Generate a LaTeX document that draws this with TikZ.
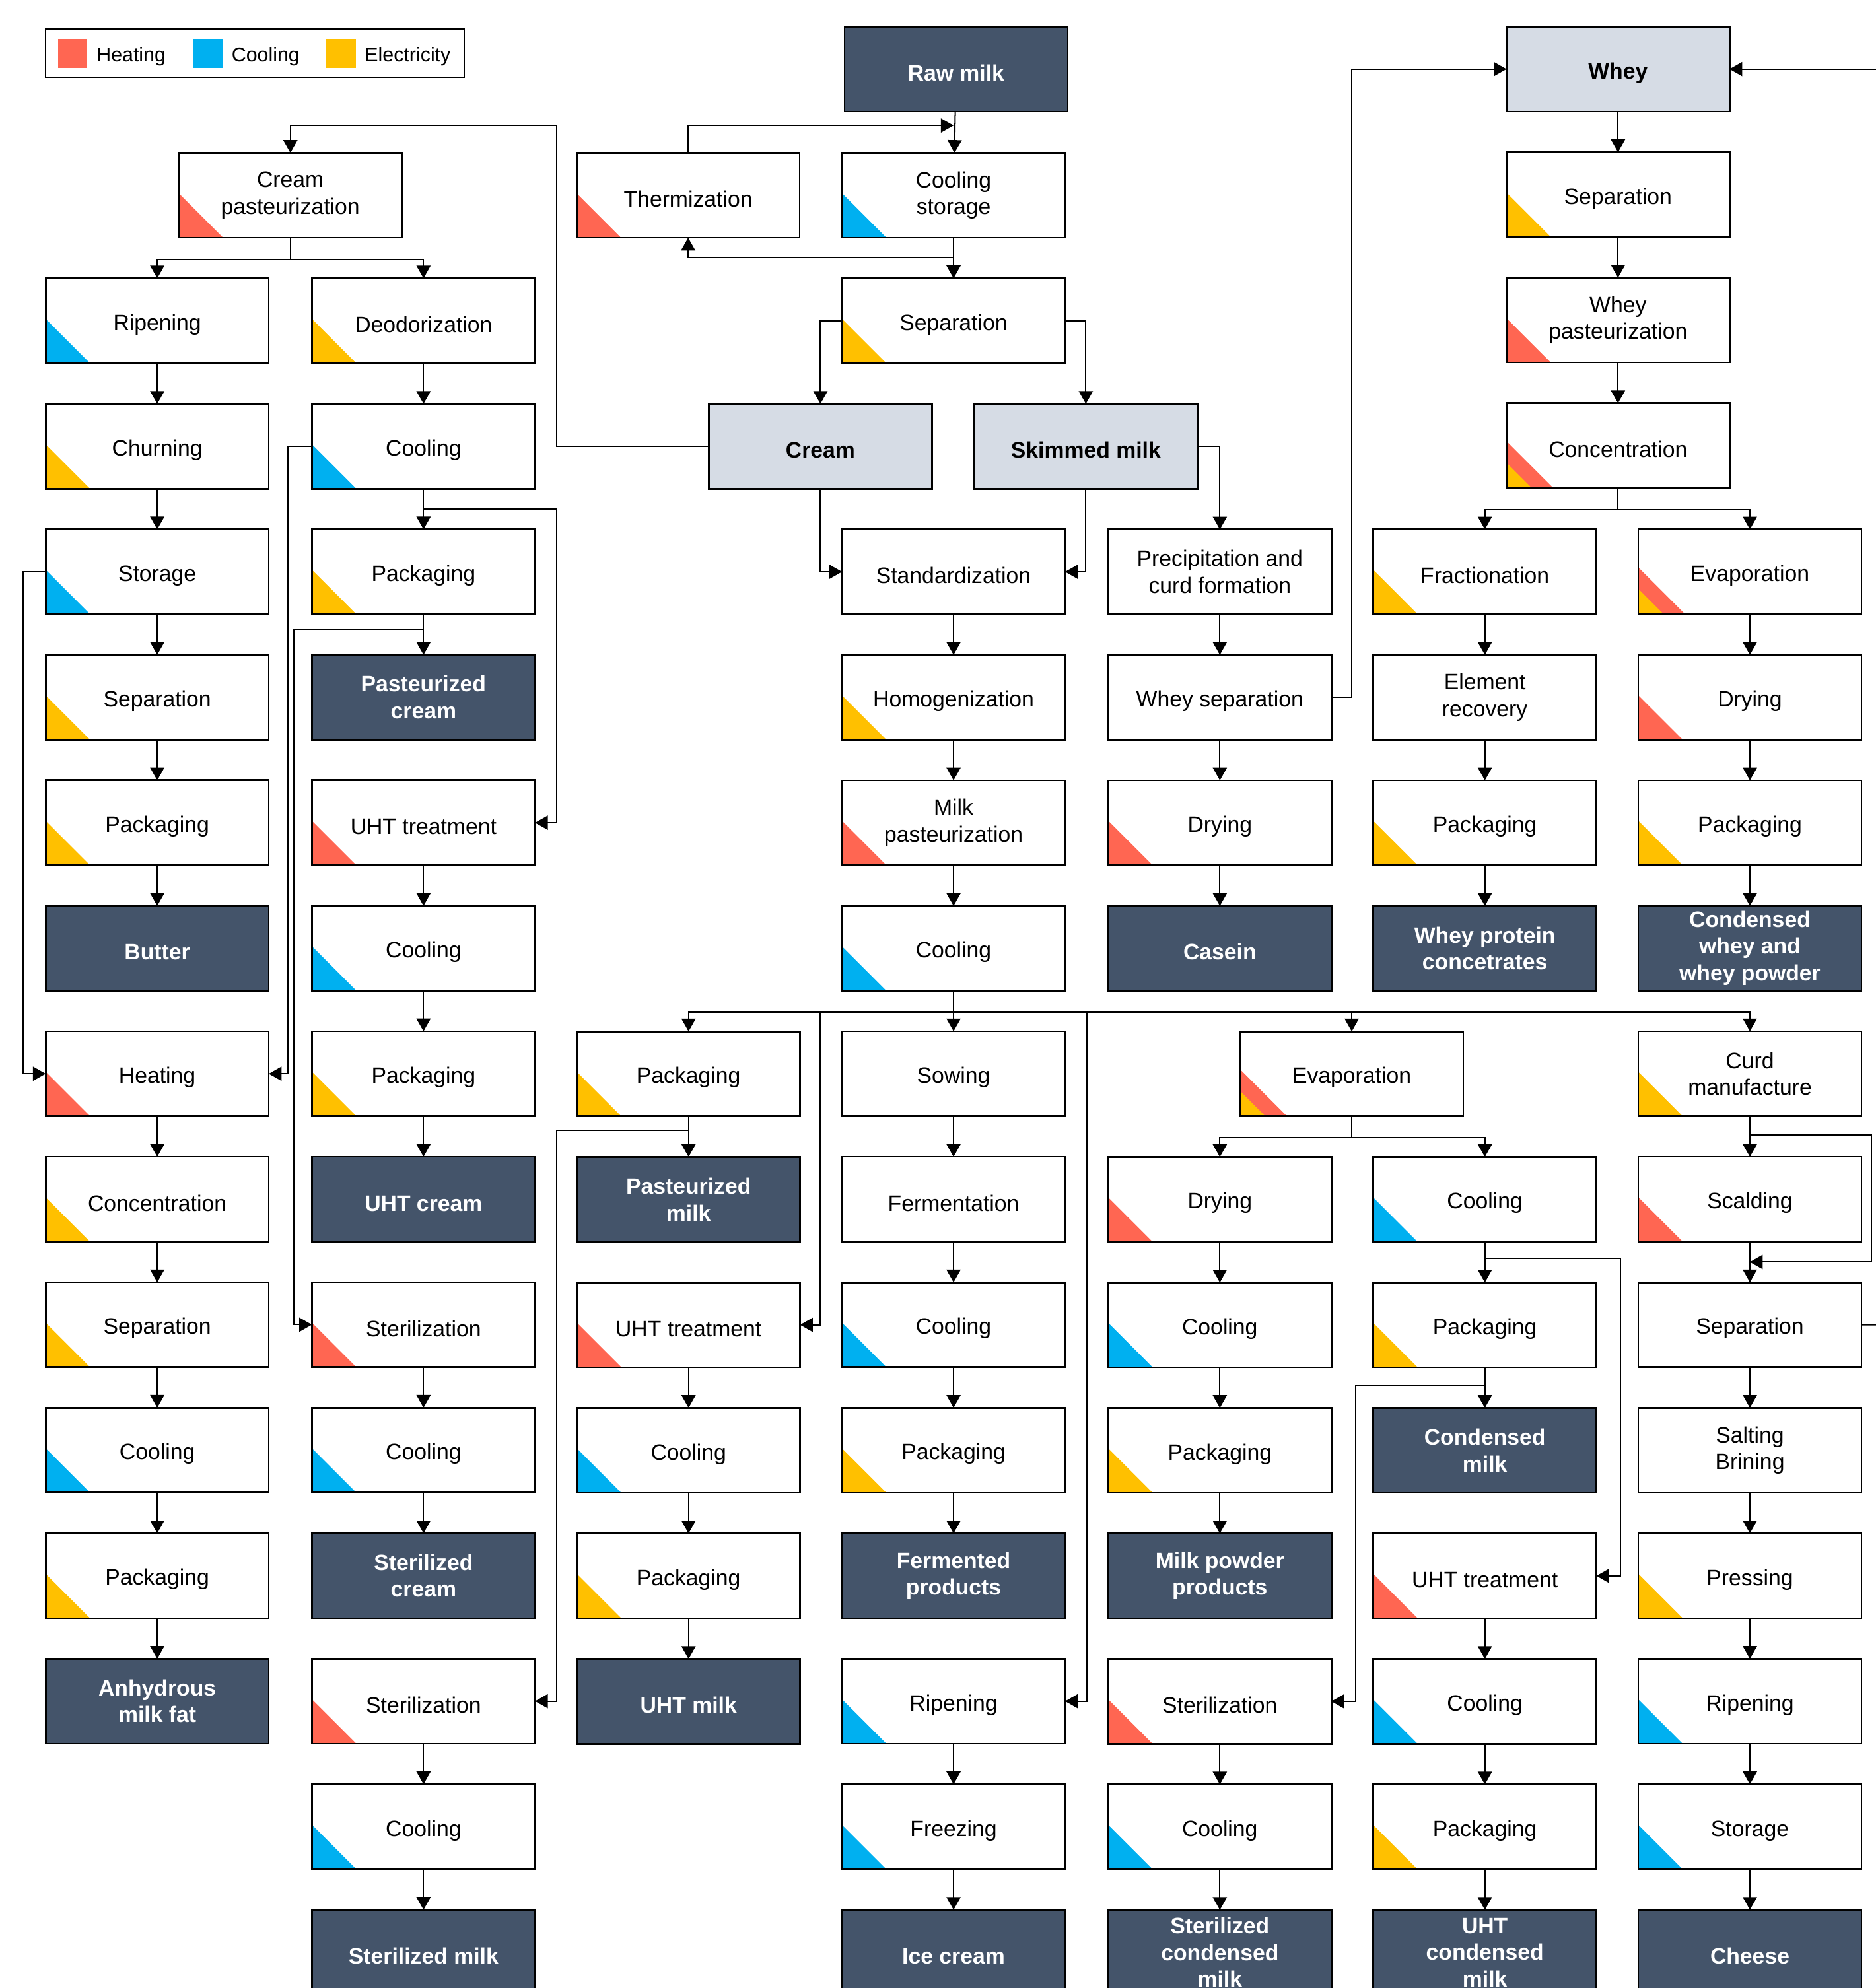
\documentclass[tikz,border=0pt]{standalone}
\usepackage{fontspec}
\setmainfont{Liberation Sans}
\usepackage{tikz}
\usetikzlibrary{arrows.meta,positioning,calc}
\usepackage{xcolor}
\definecolor{heatred}{HTML}{FF6652}
\definecolor{coolblue}{HTML}{00B0F0}
\definecolor{elecyellow}{HTML}{FFC000}
\definecolor{prodblue}{HTML}{44546A}
\definecolor{midgrey}{HTML}{D6DCE5}
\tikzset{
  stepbox/.style={draw, rectangle, fill=white, line width=0.8pt, minimum width=3.52cm, minimum height=1.34cm, inner sep=0pt, outer sep=0pt, align=center,
    execute at begin node={\rule{0pt}{10.6pt}}},
  prodbox/.style={stepbox, fill=prodblue, text=white, font=\bfseries},
  midbox/.style={stepbox, fill=midgrey, font=\bfseries},
  heat/.style={path picture={\fill[heatred] (path picture bounding box.south west) -- ++(0.7cm,0) -- ++(-0.7cm,0.7cm) -- cycle;}},
  cool/.style={path picture={\fill[coolblue] (path picture bounding box.south west) -- ++(0.7cm,0) -- ++(-0.7cm,0.7cm) -- cycle;}},
  elec/.style={path picture={\fill[elecyellow] (path picture bounding box.south west) -- ++(0.7cm,0) -- ++(-0.7cm,0.7cm) -- cycle;}},
  heatelec/.style={path picture={\fill[heatred] (path picture bounding box.south west) -- ++(0.74cm,0) -- ++(-0.74cm,0.74cm) -- cycle;
    \fill[elecyellow] (path picture bounding box.south west) -- ++(0.4cm,0) -- ++(-0.4cm,0.4cm) -- cycle;}},
  flow/.style={-{Triangle[length=5.7pt,width=6.3pt]}, line width=0.6pt},
  legsq/.style={fill=#1, minimum size=0.46cm, inner sep=0pt},
  legtxt/.style={font=\small, inner sep=0pt, execute at begin node={\rule{0pt}{9.6pt}}}
}
\begin{document}
\begin{tikzpicture}[x=0.02cm, y=-0.02cm, node distance=0.64cm and 0.667cm]
\useasboundingbox (0,0) rectangle (1479,1568);

\node[draw, line width=0.6pt, minimum width=6.6cm, minimum height=0.76cm, inner sep=0pt, outer sep=0pt] (legend) at (201,42) {};
\node[legsq=heatred] (legheat) at (57.5,42) {};
\node[right=0.13cm of legheat, legtxt] (legheattxt) {Heating};
\node[legsq=coolblue] (legcool) at (164,42) {};
\node[right=0.13cm of legcool, legtxt] (legcooltxt) {Cooling};
\node[legsq=elecyellow] (legelec) at (269,42) {};
\node[right=0.13cm of legelec, legtxt] (legelectxt) {Electricity};

\node[prodbox] (rawmilk) at (754,54.5) {Raw milk};
\node[stepbox, cool] (coolstor) at (752,154) {Cooling\\storage};
\node[stepbox, heat, left=of coolstor] (therm) {Thermization};
\node[stepbox, elec, below=of coolstor] (sep) {Separation};
\node[midbox] (cream) at (647,352) {Cream};
\node[midbox, right=of cream] (skim) {Skimmed milk};
\node[stepbox, heat] (creampast) at (229,154) {Cream\\pasteurization};

\node[midbox] (whey) at (1276,54.5) {Whey};
\node[stepbox, elec, below=of whey] (wsep) {Separation};
\node[stepbox, heat, below=of wsep] (wpast) {Whey\\pasteurization};
\node[stepbox, heatelec, below=of wpast] (wconc) {Concentration};

\node[stepbox, cool] (ripA) at (124,253) {Ripening};
\node[stepbox, elec, below=of ripA] (churn) {Churning};
\node[stepbox, cool, below=of churn] (storA) {Storage};
\node[stepbox, elec, below=of storA] (sepA) {Separation};
\node[stepbox, elec, below=of sepA] (packA) {Packaging};
\node[prodbox, below=of packA] (butter) {Butter};
\node[stepbox, heat, below=of butter] (heatA) {Heating};
\node[stepbox, elec, below=of heatA] (concA) {Concentration};
\node[stepbox, elec, below=of concA] (sepA2) {Separation};
\node[stepbox, cool, below=of sepA2] (coolA) {Cooling};
\node[stepbox, elec, below=of coolA] (packA2) {Packaging};
\node[prodbox, below=of packA2] (amf) {Anhydrous\\milk fat};

\node[stepbox, elec] (deod) at (334,253) {Deodorization};
\node[stepbox, cool, below=of deod] (coolB) {Cooling};
\node[stepbox, elec, below=of coolB] (packB) {Packaging};
\node[prodbox, below=of packB] (pcream) {Pasteurized\\cream};
\node[stepbox, heat, below=of pcream] (uhtB) {UHT treatment};
\node[stepbox, cool, below=of uhtB] (coolB2) {Cooling};
\node[stepbox, elec, below=of coolB2] (packB2) {Packaging};
\node[prodbox, below=of packB2] (uhtcream) {UHT cream};
\node[stepbox, heat, below=of uhtcream] (sterB) {Sterilization};
\node[stepbox, cool, below=of sterB] (coolB3) {Cooling};
\node[prodbox, below=of coolB3] (stcream) {Sterilized\\cream};
\node[stepbox, heat, below=of stcream] (sterB2) {Sterilization};
\node[stepbox, cool, below=of sterB2] (coolB4) {Cooling};
\node[prodbox, below=of coolB4] (stmilk) {Sterilized milk};

\node[stepbox, elec] (packC) at (543,847) {Packaging};
\node[prodbox, below=of packC] (pmilk) {Pasteurized\\milk};
\node[stepbox, heat, below=of pmilk] (uhtC) {UHT treatment};
\node[stepbox, cool, below=of uhtC] (coolC) {Cooling};
\node[stepbox, elec, below=of coolC] (packC2) {Packaging};
\node[prodbox, below=of packC2] (uhtmilk) {UHT milk};

\node[stepbox] (stand) at (752,451) {Standardization};
\node[stepbox, elec, below=of stand] (homog) {Homogenization};
\node[stepbox, heat, below=of homog] (mpast) {Milk\\pasteurization};
\node[stepbox, cool, below=of mpast] (coolD) {Cooling};
\node[stepbox, below=of coolD] (sow) {Sowing};
\node[stepbox, below=of sow] (ferm) {Fermentation};
\node[stepbox, cool, below=of ferm] (coolD2) {Cooling};
\node[stepbox, elec, below=of coolD2] (packD) {Packaging};
\node[prodbox, below=of packD] (fermprod) {Fermented\\products};
\node[stepbox, cool, below=of fermprod] (ripD) {Ripening};
\node[stepbox, cool, below=of ripD] (freez) {Freezing};
\node[prodbox, below=of freez] (icecream) {Ice cream};

\node[stepbox] (precip) at (962,451) {Precipitation and\\curd formation};
\node[stepbox, below=of precip] (wheysep) {Whey separation};
\node[stepbox, heat, below=of wheysep] (dryE) {Drying};
\node[prodbox, below=of dryE] (casein) {Casein};
\node[stepbox, heatelec] (evapE) at (1066,847) {Evaporation};
\node[stepbox, heat] (dryE2) at (962,946) {Drying};
\node[stepbox, cool, below=of dryE2] (coolE) {Cooling};
\node[stepbox, elec, below=of coolE] (packE) {Packaging};
\node[prodbox, below=of packE] (powder) {Milk powder\\products};
\node[stepbox, heat, below=of powder] (sterE) {Sterilization};
\node[stepbox, cool, below=of sterE] (coolE2) {Cooling};
\node[prodbox, below=of coolE2] (stcond) {Sterilized\\condensed\\milk};

\node[stepbox, elec] (fract) at (1171,451) {Fractionation};
\node[stepbox, below=of fract] (elem) {Element\\recovery};
\node[stepbox, elec, below=of elem] (packF) {Packaging};
\node[prodbox, below=of packF] (wpc) {Whey protein\\concetrates};
\node[stepbox, cool] (coolF) at (1171,946) {Cooling};
\node[stepbox, elec, below=of coolF] (packF2) {Packaging};
\node[prodbox, below=of packF2] (condmilk) {Condensed\\milk};
\node[stepbox, heat, below=of condmilk] (uhtF) {UHT treatment};
\node[stepbox, cool, below=of uhtF] (coolF2) {Cooling};
\node[stepbox, elec, below=of coolF2] (packF3) {Packaging};
\node[prodbox, below=of packF3] (uhtcond) {UHT\\condensed\\milk};

\node[stepbox, heatelec] (evapG) at (1380,451) {Evaporation};
\node[stepbox, heat, below=of evapG] (dryG) {Drying};
\node[stepbox, elec, below=of dryG] (packG) {Packaging};
\node[prodbox, below=of packG] (cwhey) {Condensed\\whey and\\whey powder};
\node[stepbox, elec, below=of cwhey] (curd) {Curd\\manufacture};
\node[stepbox, heat, below=of curd] (scald) {Scalding};
\node[stepbox, below=of scald] (sepG) {Separation};
\node[stepbox, below=of sepG] (salt) {Salting\\Brining};
\node[stepbox, elec, below=of salt] (press) {Pressing};
\node[stepbox, cool, below=of press] (ripG) {Ripening};
\node[stepbox, cool, below=of ripG] (storG) {Storage};
\node[prodbox, below=of storG] (cheese) {Cheese};

\coordinate (rawjoin) at (752,99);
\coordinate (thermret) at (752,203);
\coordinate (creamtop) at (439,99);
\coordinate (wheyfeed) at (1490,54.5);
\coordinate (sepout) at (1490,1045);
\coordinate (scaldjoin) at ($(scald.south)!0.5!(sepG.north)$);

\foreach \a/\b in {rawmilk/coolstor, coolstor/sep, whey/wsep, wsep/wpast, wpast/wconc,
  ripA/churn, churn/storA, storA/sepA, sepA/packA, packA/butter, heatA/concA, concA/sepA2, sepA2/coolA, coolA/packA2, packA2/amf,
  deod/coolB, coolB/packB, packB/pcream, uhtB/coolB2, coolB2/packB2, packB2/uhtcream, sterB/coolB3, coolB3/stcream, sterB2/coolB4, coolB4/stmilk,
  packC/pmilk, uhtC/coolC, coolC/packC2, packC2/uhtmilk,
  stand/homog, homog/mpast, mpast/coolD, coolD/sow, sow/ferm, ferm/coolD2, coolD2/packD, packD/fermprod, ripD/freez, freez/icecream,
  precip/wheysep, wheysep/dryE, dryE/casein, dryE2/coolE, coolE/packE, packE/powder, sterE/coolE2, coolE2/stcond,
  fract/elem, elem/packF, packF/wpc, coolF/packF2, packF2/condmilk, uhtF/coolF2, coolF2/packF3, packF3/uhtcond,
  evapG/dryG, dryG/packG, packG/cwhey, curd/scald, scald/sepG, sepG/salt, salt/press, press/ripG, ripG/storG, storG/cheese}
  \draw[flow] (\a) -- (\b);

\draw[flow] (therm.north) |- (rawjoin);
\draw[flow] (thermret) -| (therm.south);
\draw[flow] (sep.west) -| (cream.north);
\draw[flow] (sep.east) -| (skim.north);
\draw[flow] (cream.west) -| (creamtop) -| (creampast.north);
\draw[flow] (cream.south) |- (stand.west);
\draw[flow] (skim.south) |- (stand.east);
\draw[flow] (skim.east) -| (precip.north);
\draw[flow] (creampast.south) -- ++(0,17) -| (ripA.north);
\draw[flow] (creampast.south) -- ++(0,17) -| (deod.north);
\draw[flow] (storA.west) -- ++(-18,0) |- (heatA.west);
\draw[flow] (coolB.west) -- ++(-19,0) |- (heatA.east);
\draw[flow] (coolB.south) -- ++(0,16) -- ++(105,0) |- (uhtB.east);
\draw[flow] (packB.south) -- ++(0,12) -- ++(-102,0) |- (sterB.west);
\draw[flow] (packC.south) -- ++(0,11) -- ++(-104,0) |- (sterB2.east);

\draw (coolD.south) -- ++(0,17) coordinate (bus);
\draw[flow] (bus) -| (packC.north);
\draw[flow] (bus) -| (evapE.north);
\draw[flow] (bus) -| (curd.north);
\draw[flow] (bus) -- ++(-105,0) |- (uhtC.east);
\draw[flow] (bus) -- ++(105,0) |- (ripD.east);

\draw[flow] (evapE.south) -- ++(0,17) -| (dryE2.north);
\draw[flow] (evapE.south) -- ++(0,17) -| (coolF.north);
\draw[flow] (coolF.south) -- ++(0,13) -- ++(107,0) |- (uhtF.east);
\draw[flow] (packF2.south) -- ++(0,14) -- ++(-102,0) |- (sterE.east);

\draw[flow] (wheysep.east) -- ++(16,0) |- (whey.west);
\draw[flow] (wheyfeed) -- (whey.east);
\draw[flow] (wconc.south) -- ++(0,17) -| (fract.north);
\draw[flow] (wconc.south) -- ++(0,17) -| (evapG.north);
\draw[flow] (curd.south) -- ++(0,15) -- ++(96,0) |- (scaldjoin);
\draw[line width=0.6pt] (sepG.east) -- (sepout);
\end{tikzpicture}
\end{document}
